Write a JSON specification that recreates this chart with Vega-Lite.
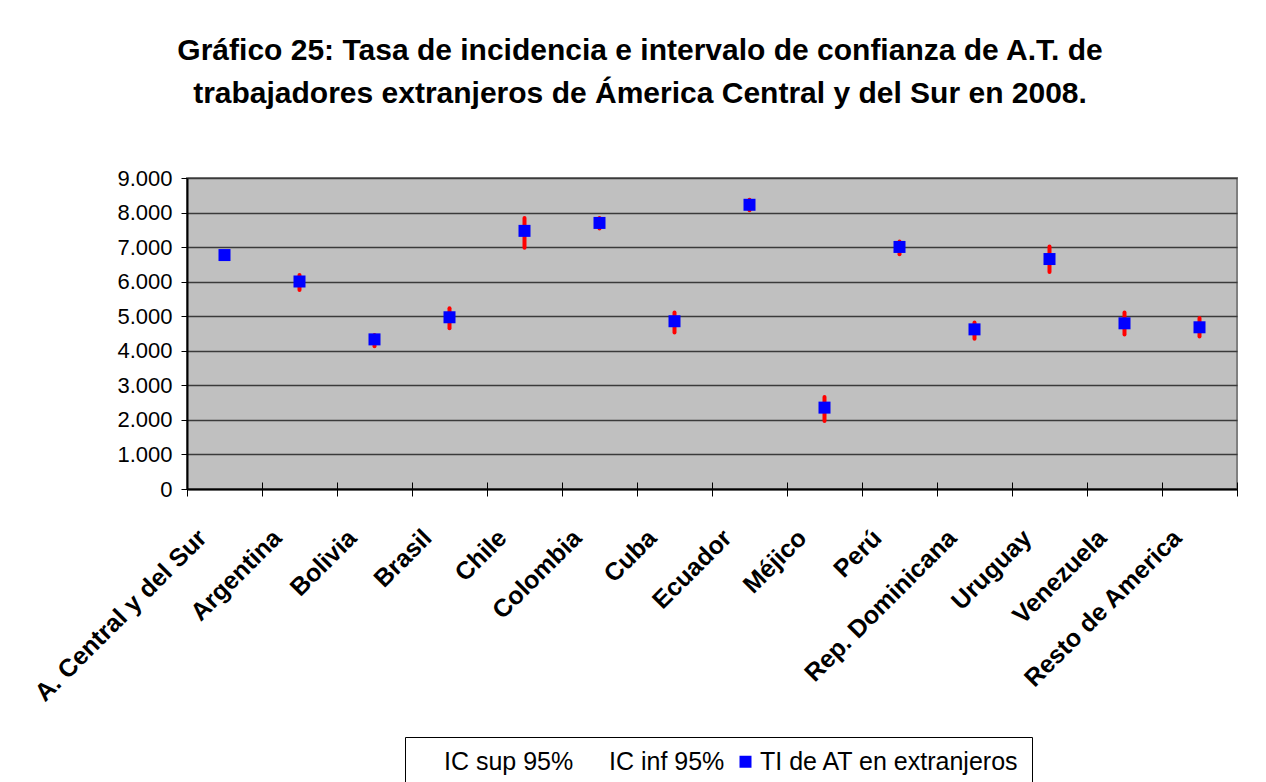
{
  "$schema": "https://vega.github.io/schema/vega-lite/v6.json",
  "autosize": "none",
  "width": 1050,
  "height": 311,
  "padding": {"left": 187, "top": 178, "right": 29, "bottom": 293},
  "background": "#FFFFFF",
  "title": {
    "text": ["Gráfico 25: Tasa de incidencia e intervalo de confianza de A.T. de", "trabajadores extranjeros de Ámerica Central y del Sur en 2008."],
    "font": "Liberation Sans",
    "fontSize": 30,
    "fontWeight": "bold",
    "color": "#000000",
    "lineHeight": 43,
    "anchor": "middle",
    "dx": -72,
    "offset": 58
  },
  "config": {
    "view": {"fill": "#C0C0C0", "stroke": "#808080", "strokeWidth": 2},
    "font": "Liberation Sans"
  },
  "data": {
    "values": [
      {"pais": "A. Central y del Sur", "ti": 6770, "lo": 6700, "hi": 6850},
      {"pais": "Argentina", "ti": 6005, "lo": 5760, "hi": 6190},
      {"pais": "Bolivia", "ti": 4330, "lo": 4130, "hi": 4460},
      {"pais": "Brasil", "ti": 4970, "lo": 4650, "hi": 5230},
      {"pais": "Chile", "ti": 7470, "lo": 6980, "hi": 7840},
      {"pais": "Colombia", "ti": 7700, "lo": 7540, "hi": 7840},
      {"pais": "Cuba", "ti": 4855, "lo": 4530, "hi": 5110},
      {"pais": "Ecuador", "ti": 8225, "lo": 8070, "hi": 8370},
      {"pais": "Méjico", "ti": 2355, "lo": 1970, "hi": 2660},
      {"pais": "Perú", "ti": 7005, "lo": 6790, "hi": 7160},
      {"pais": "Rep. Dominicana", "ti": 4620, "lo": 4350, "hi": 4820},
      {"pais": "Uruguay", "ti": 6655, "lo": 6280, "hi": 7020},
      {"pais": "Venezuela", "ti": 4795, "lo": 4470, "hi": 5110},
      {"pais": "Resto de America", "ti": 4680, "lo": 4410, "hi": 4950}
    ]
  },
  "resolve": {"axis": {"x": "independent"}},
  "layer": [
    {
      "mark": {"type": "rule", "color": "#FF0000", "strokeWidth": 4, "strokeCap": "round"},
      "encoding": {
        "x": {
          "field": "pais", "type": "nominal", "sort": null,
          "scale": {"paddingInner": 0, "paddingOuter": 0},
          "axis": {
            "title": null, "orient": "bottom",
            "labelAngle": -45, "labelFont": "Liberation Sans", "labelFontSize": 25, "labelFontWeight": "bold",
            "labelColor": "#000000", "labelPadding": 29, "labelOffset": -31, "labelLimit": 400,
            "tickBand": "extent", "tickSize": 7, "tickColor": "#000000", "tickWidth": 1,
            "domainColor": "#000000", "domainWidth": 2, "grid": false
          }
        },
        "y": {
          "field": "lo", "type": "quantitative",
          "scale": {"domain": [0, 9000], "nice": false},
          "axis": {
            "title": null, "values": [0, 1000, 2000, 3000, 4000, 5000, 6000, 7000, 8000, 9000],
            "labelExpr": "replace(format(datum.value, ','), ',', '.')", "labelOverlap": false,
            "labelFont": "Liberation Sans", "labelFontSize": 22, "labelColor": "#000000", "labelPadding": 9,
            "tickSize": 6, "tickColor": "#000000", "domainColor": "#000000", "domainWidth": 2,
            "grid": true, "gridColor": "#3A3A3A", "gridWidth": 1.5, "gridOpacity": 1
          }
        },
        "y2": {"field": "hi"}
      }
    },
    {
      "mark": {"type": "point", "shape": "square", "filled": true, "size": 144, "opacity": 1},
      "encoding": {
        "x": {
          "field": "pais", "type": "nominal", "sort": null,
          "axis": {
            "title": null, "orient": "bottom", "labels": false, "domain": false, "grid": false,
            "tickBand": "extent", "tickSize": -7, "tickColor": "#000000", "tickWidth": 1
          }
        },
        "y": {
          "field": "ti", "type": "quantitative",
          "axis": {
            "title": null, "values": [0, 1000, 2000, 3000, 4000, 5000, 6000, 7000, 8000, 9000],
            "labelExpr": "replace(format(datum.value, ','), ',', '.')", "labelOverlap": false,
            "labelFont": "Liberation Sans", "labelFontSize": 22, "labelColor": "#000000", "labelPadding": 9,
            "tickSize": 6, "tickColor": "#000000", "domainColor": "#000000", "domainWidth": 2,
            "grid": true, "gridColor": "#3A3A3A", "gridWidth": 1.5, "gridOpacity": 1
          }
        },
        "color": {
          "datum": "TI de AT en extranjeros",
          "scale": {"domain": ["IC sup 95%", "IC inf 95%", "TI de AT en extranjeros"], "range": ["transparent", "transparent", "#0000FF"]},
          "legend": {
            "title": null, "orient": "none", "direction": "horizontal",
            "legendX": 218, "legendY": 559,
            "symbolType": "square", "symbolSize": 144, "symbolStrokeWidth": 0,
            "labelFont": "Liberation Sans", "labelFontSize": 25, "labelColor": "#000000",
            "labelOffset": 2, "columnPadding": 8, "padding": 12,
            "strokeColor": "#000000", "fillColor": "#FFFFFF", "cornerRadius": 0, "labelLimit": 400
          }
        }
      }
    }
  ]
}
